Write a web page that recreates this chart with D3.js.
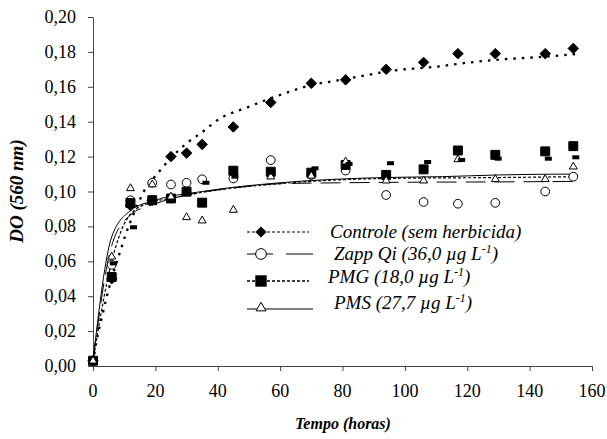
<!DOCTYPE html>
<html><head><meta charset="utf-8">
<script src="https://cdn.jsdelivr.net/npm/d3@7"></script>
</head><body style="margin:0">
<svg id="c" width="607" height="439"></svg>
<script>
// ---- data ----
const times = [0, 6, 12, 19, 25, 30, 35, 45, 57, 70, 81, 94, 106, 117, 129, 145, 154];
const controle = [0.003, 0.050, 0.092, 0.095, 0.120, 0.122, 0.127, 0.137, 0.151, 0.162, 0.164, 0.170, 0.174, 0.179, 0.179, 0.179, 0.182];
const zapp = [0.003, 0.058, 0.095, 0.105, 0.104, 0.105, 0.107, 0.1075, 0.118, 0.1095, 0.112, 0.098, 0.094, 0.093, 0.0935, 0.100, 0.1085];
const pmg = [0.003, 0.051, 0.0934, 0.095, 0.096, 0.0999, 0.0936, 0.1119, 0.1113, 0.1108, 0.1152, 0.1095, 0.1127, 0.1235, 0.121, 0.123, 0.126];
const pms = [0.003, 0.0626, 0.1018, 0.104, 0.097, 0.0852, 0.0833, 0.0894, 0.1085, 0.109, 0.1171, 0.1062, 0.1062, 0.1184, 0.107, 0.107, 0.1142];
// small dash markers
const dashT = [6.5, 13, 36.2, 45.5, 57.3, 71.2, 82.1, 95.4, 107.3, 118.2, 129.9, 146, 154.8];
const dashV = [0.0588, 0.0795, 0.105, 0.1085, 0.1108, 0.1133, 0.1158, 0.1162, 0.1169, 0.1181, 0.1188, 0.1188, 0.1196];
// fitted curves
const controleFitT = [0, 1, 3, 4.3, 7.5, 8.6, 10.2, 13, 16, 21, 26, 31, 35, 40, 50, 61, 70, 78, 88, 95, 110, 120, 131, 142, 155];
const controleFitV = [0.002, 0.013, 0.029, 0.039, 0.059, 0.065, 0.074, 0.087, 0.099, 0.111, 0.121, 0.129, 0.134, 0.141, 0.1486, 0.156, 0.161, 0.1635, 0.1668, 0.169, 0.1715, 0.1738, 0.1757, 0.1769, 0.1788];
const zappFitT = [0, 6, 12, 20, 30, 45, 60, 80, 100, 130, 155];
const zappFitV = [0.003, 0.069, 0.0865, 0.093, 0.098, 0.102, 0.1045, 0.105, 0.1053, 0.1055, 0.1058];
const pmgFitT = [0, 6, 12, 19, 25, 35, 60, 95, 130, 155];
const pmgFitV = [0.003, 0.060, 0.087, 0.094, 0.096, 0.0995, 0.1045, 0.1075, 0.108, 0.1085];
const pmsFitT = [0, 6, 12, 20, 35, 60, 93, 112, 130, 155];
const pmsFitV = [0.003, 0.074, 0.089, 0.095, 0.100, 0.105, 0.108, 0.1085, 0.1095, 0.110];
const xTicks = [0, 20, 40, 60, 80, 100, 120, 140, 160];
const yTicks = [0, 0.02, 0.04, 0.06, 0.08, 0.10, 0.12, 0.14, 0.16, 0.18, 0.20];
const legendLabels = ["Controle (sem herbicida)", "Zapp Qi (36,0 \u00b5g L", "PMG (18,0 \u00b5g L", "PMS (27,7 \u00b5g L"];

// ---- chart ----
const FONT = '"Liberation Serif"';
const svg = d3.select("#c");
const x = d3.scaleLinear().domain([0, 160]).range([93, 592]);
const y = d3.scaleLinear().domain([0, 0.20]).range([366, 17]);

const fmt = d => d3.format(".2f")(d).replace(".", ",");
const gx = svg.append("g").attr("transform", "translate(0,366)")
  .call(d3.axisBottom(x).tickValues(xTicks).tickSize(5).tickFormat("").tickSizeOuter(0));
const gy = svg.append("g").attr("transform", "translate(93,0)")
  .call(d3.axisLeft(y).tickValues(yTicks).tickSize(5).tickFormat("").tickSizeOuter(0));
[gx, gy].forEach(g => {
  g.attr("font-family", null).attr("font-size", null);
  g.selectAll("path,line").attr("stroke", "#444").attr("stroke-width", 1);
  g.selectAll("text").remove();
});
xTicks.forEach(d => {
  svg.append("text").attr("x", x(d)).attr("y", 397).attr("text-anchor", "middle")
    .attr("font-family", FONT).attr("font-size", 18).text(d);
});
yTicks.forEach(d => {
  svg.append("text").attr("x", 76).attr("y", y(d) + 6).attr("text-anchor", "end")
    .attr("font-family", FONT).attr("font-size", 18).text(fmt(d));
});

svg.append("text").attr("x", 343).attr("y", 429).attr("text-anchor", "middle")
  .attr("font-family", FONT).attr("font-size", 16).attr("font-weight", "bold").attr("font-style", "italic")
  .text("Tempo (horas)");
svg.append("text").attr("transform", "translate(23,191) rotate(-90)").attr("text-anchor", "middle")
  .attr("font-family", FONT).attr("font-size", 19).attr("font-weight", "bold").attr("font-style", "italic")
  .text("DO (560 nm)");

const line = d3.line().x(d => x(d[0])).y(d => y(d[1])).curve(d3.curveMonotoneX);
const zip = (a, b) => a.map((v, i) => [v, b[i]]);

const plot = svg.append("g");
plot.append("path").attr("d", line(zip(controleFitT, controleFitV))).attr("fill", "none")
  .attr("stroke", "#000").attr("stroke-width", 2.3).attr("stroke-dasharray", "2.5,6");
plot.append("path").attr("d", line(zip(zappFitT, zappFitV))).attr("fill", "none")
  .attr("stroke", "#000").attr("stroke-width", 1).attr("stroke-dasharray", "20,9");
plot.append("path").attr("d", line(zip(pmgFitT, pmgFitV))).attr("fill", "none")
  .attr("stroke", "#000").attr("stroke-width", 1.2).attr("stroke-dasharray", "3,2");
plot.append("path").attr("d", line(zip(pmsFitT, pmsFitV))).attr("fill", "none")
  .attr("stroke", "#000").attr("stroke-width", 1);

const sym = {
  diamond: d3.symbol().type(d3.symbolDiamond2).size(70),
  circle: d3.symbol().type(d3.symbolCircle).size(60),
  square: d3.symbol().type(d3.symbolSquare).size(80),
  triangle: d3.symbol().type(d3.symbolTriangle2).size(45)
};
function markers(vals, s, fill) {
  plot.append("g").selectAll("path").data(zip(times, vals)).join("path")
    .attr("d", s).attr("transform", d => `translate(${x(d[0])},${y(d[1])})`)
    .attr("fill", fill).attr("stroke", "#000").attr("stroke-width", 1);
}
markers(controle, sym.diamond(), "#000");
markers(zapp, sym.circle(), "#fff");
markers(pmg, sym.square(), "#000");
markers(pms, sym.triangle(), "#fff");
plot.append("g").selectAll("rect").data(zip(dashT, dashV)).join("rect")
  .attr("x", d => x(d[0]) - 3.5).attr("y", d => y(d[1]) - 2).attr("width", 7).attr("height", 4).attr("fill", "#000");

// ---- legend ----
const lg = svg.append("g");
const rows = [232, 254, 281, 309];
const lx0 = 247, lx1 = 309, mx = 261;
lg.append("line").attr("x1", lx0).attr("x2", lx1).attr("y1", rows[0]).attr("y2", rows[0])
  .attr("stroke", "#000").attr("stroke-width", 1.2).attr("stroke-dasharray", "3,2");
lg.append("path").attr("d", d3.symbol().type(d3.symbolDiamond2).size(80)()).attr("transform", `translate(${mx},${rows[0]})`).attr("fill", "#000");
lg.append("line").attr("x1", lx0).attr("x2", 273).attr("y1", rows[1]).attr("y2", rows[1]).attr("stroke", "#000");
lg.append("line").attr("x1", 286).attr("x2", 313).attr("y1", rows[1]).attr("y2", rows[1]).attr("stroke", "#000");
lg.append("path").attr("d", d3.symbol().type(d3.symbolCircle).size(90)()).attr("transform", `translate(${mx},${rows[1]})`).attr("fill", "#fff").attr("stroke", "#000");
lg.append("line").attr("x1", lx0).attr("x2", lx1).attr("y1", rows[2]).attr("y2", rows[2])
  .attr("stroke", "#000").attr("stroke-width", 1.6).attr("stroke-dasharray", "3,2");
lg.append("path").attr("d", d3.symbol().type(d3.symbolSquare).size(130)()).attr("transform", `translate(${mx},${rows[2]})`).attr("fill", "#000");
lg.append("line").attr("x1", lx0).attr("x2", 313).attr("y1", rows[3]).attr("y2", rows[3]).attr("stroke", "#000");
lg.append("path").attr("d", d3.symbol().type(d3.symbolTriangle2).size(70)()).attr("transform", `translate(${mx},${rows[3] - 1})`).attr("fill", "#fff").attr("stroke", "#000");

const textX = [330, 334, 328, 334];
const textY = [238, 260, 283, 309];
legendLabels.forEach((t, i) => {
  const tx = svg.append("text").attr("x", textX[i]).attr("y", textY[i])
    .attr("font-family", FONT).attr("font-size", 19).attr("font-style", "italic").text(t);
  if (i > 0) {
    tx.append("tspan").attr("dy", -7).attr("font-size", 12).text("-1");
    tx.append("tspan").attr("dy", 7).text(")");
  }
});
</script>
</body></html>
